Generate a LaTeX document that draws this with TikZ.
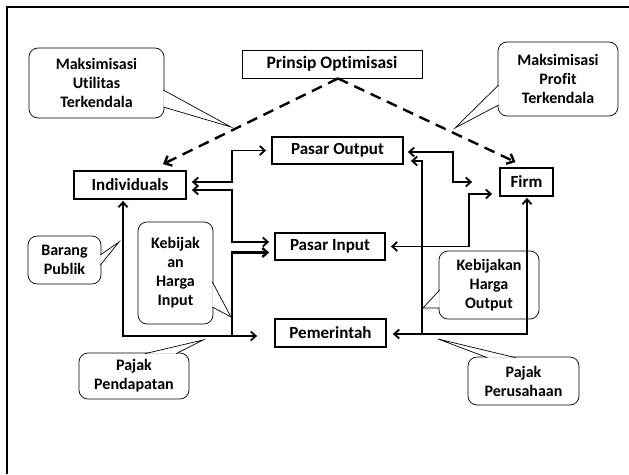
\documentclass[tikz,border=0pt]{standalone}
\usepackage{fontspec}
\setmainfont{Carlito}[Ligatures=NoCommon]
\usetikzlibrary{arrows.meta}
\begin{document}
\begin{tikzpicture}[x=1pt, y=-1pt,
    box/.style={draw, line width=1.8pt, inner sep=0pt, font=\fontsize{17}{19}\selectfont\bfseries},
    note/.style={draw, line width=0.7pt, rounded corners=9pt, inner sep=0pt, align=center,
        font=\fontsize{16}{19}\selectfont\bfseries},
    flow/.style={line width=1.8pt, >={Straight Barb[length=5pt,width=9pt]},
        shorten >=5pt, shorten <=5pt},
    goal/.style={line width=2.4pt, dash pattern=on 11pt off 7pt, ->,
        >={Straight Barb[length=6pt,width=11pt]}},
    pointer/.style={draw, line width=0.7pt, fill=white}]
\useasboundingbox (0,0) rectangle (629,474);
\draw[line width=2.5pt] (7,474) -- (7,7) -- (629,7);

% boxes
\node[box, line width=0.9pt, minimum width=180, minimum height=28, font=\fontsize{17.5}{19}\selectfont\bfseries]
    (prinsip) at (332,64) {Prinsip Optimisasi};
\node[box, minimum width=112, minimum height=28] (individuals) at (130,185) {Individuals};
\node[box, minimum width=131, minimum height=27] (pasarout) at (337.5,150.5) {Pasar Output};
\node[box, minimum width=110, minimum height=27] (pasarin) at (330,246.5) {Pasar Input};
\node[box, minimum width=111, minimum height=28] (pemerintah) at (330.5,333) {Pemerintah};
\node[box, minimum width=53, minimum height=28] (firm) at (526.5,182) {Firm};

% optimisation
\draw[goal] ([xshift=6pt]prinsip.south) -- ([xshift=33pt,yshift=6pt]individuals.north);
\draw[goal] ([xshift=6pt]prinsip.south) -- ([xshift=-11pt,yshift=5pt]firm.north);

% flows, left side
\coordinate (ja) at (232,0);
\coordinate (jb) at (232,336);
\coordinate (bl) at (123,336);
\draw[flow,<->] ([yshift=3pt]individuals.east) -- ([yshift=3pt]individuals.east -| ja) |- (pasarout.west);
\draw[flow,<->] ([yshift=-5pt]individuals.east) -- ([yshift=-5pt]individuals.east -| ja) |- ([yshift=4.5pt]pasarin.west);
\draw[flow,->, line width=2.4pt, shorten <=0pt] (jb) |- ([yshift=-6pt]pasarin.west);
\draw[flow,<->, shorten <=1pt, shorten >=17pt] (bl |- individuals.south) -- (bl) -- ([yshift=-3pt]pemerintah.west);

% flows, right side
\coordinate (jc) at (453,0);
\coordinate (jd) at (422,334);
\coordinate (je) at (469,0);
\coordinate (br) at (527,334);
\draw[flow,<->, shorten <=4pt, shorten >=27pt] ([yshift=-1.5pt]pasarout.east) -- ([yshift=-1.5pt]pasarout.east -| jc) |- (firm.west);
\draw[flow,->, shorten <=0pt, shorten >=7pt] (jd) |- ([yshift=-10.5pt]pasarout.east);
\draw[flow,<->, shorten >=7pt] (pasarin.east) -- (pasarin.east -| je) |- ([yshift=-12pt]firm.west);
\draw[flow,<->, shorten <=1pt, shorten >=6pt] (br |- firm.south) -- (br) -- ([yshift=-1pt]pemerintah.east);

% callouts
\node[note, minimum width=135, minimum height=70] (utilitas) at (96.5,83) {Maksimisasi\\Utilitas\\Terkendala};
\coordinate (t1) at (231,127);
\filldraw[pointer] ([xshift=-1pt,yshift=-7pt]utilitas.east) -- (t1) -- ([xshift=-1pt,yshift=-24pt]utilitas.east);

\node[note, minimum width=120, minimum height=74] (profit) at (558,79) {Maksimisasi\\Profit\\Terkendala};
\coordinate (t2) at (455,128);
\filldraw[pointer] ([xshift=1pt,yshift=-6pt]profit.west) -- (t2) -- ([xshift=1pt,yshift=-26pt]profit.west);

\node[note, minimum width=73, minimum height=48] (publik) at (64.5,260) {Barang\\Publik};
\coordinate (t3) at (119,242);
\filldraw[pointer] ([xshift=-1pt,yshift=5pt]publik.east) -- (t3) -- ([xshift=-1pt,yshift=-5pt]publik.east);

\node[note, minimum width=75, minimum height=102] (hrgin) at (175.5,273) {Kebijak\\an\\Harga\\Input};
\coordinate (t4) at (231,317);
\filldraw[pointer] ([xshift=-1pt,yshift=-9pt]hrgin.east) -- (t4) -- ([xshift=-1pt,yshift=-34pt]hrgin.east);

\node[note, minimum width=110, minimum height=46] (pendapatan) at (134,376) {Pajak\\Pendapatan};
\coordinate (t5) at (203,340);
\filldraw[pointer] ([xshift=11pt,yshift=-1pt]pendapatan.north) -- (t5) -- ([xshift=42pt,yshift=-1pt]pendapatan.north);

\node[note, minimum width=100, minimum height=68] (hrgout) at (489,285) {Kebijakan\\Harga\\Output};
\coordinate (t6) at (423,308);
\filldraw[pointer] ([xshift=1pt,yshift=-5pt]hrgout.west) -- (t6) -- ([xshift=1pt,yshift=-23pt]hrgout.west);

\node[note, minimum width=111, minimum height=48] (perusahaan) at (523.5,381) {Pajak\\Perusahaan};
\coordinate (t7) at (438,339);
\filldraw[pointer] ([xshift=-36pt,yshift=-1pt]perusahaan.north) -- (t7) -- ([xshift=-8pt,yshift=-1pt]perusahaan.north);
\end{tikzpicture}
\end{document}
